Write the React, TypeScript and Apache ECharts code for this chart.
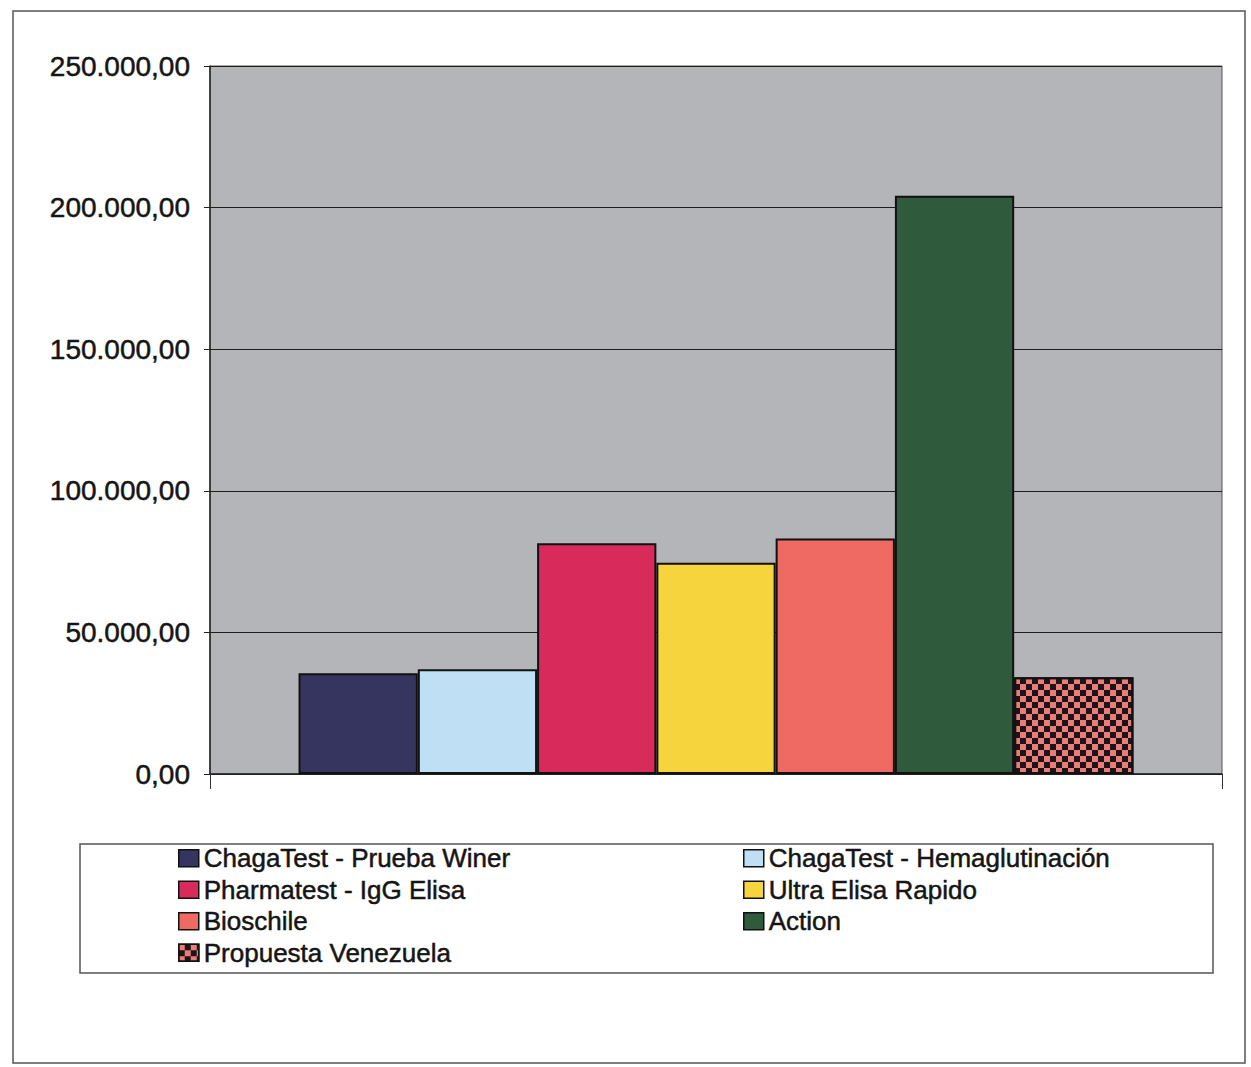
import React, { useEffect, useRef } from "react";
import * as echarts from "echarts";

// Test kits compared and their cost
const kitNames = [
  "ChagaTest - Prueba Winer",
  "ChagaTest - Hemaglutinación",
  "Pharmatest - IgG Elisa",
  "Ultra Elisa Rapido",
  "Bioschile",
  "Action",
  "Propuesta Venezuela",
];
const kitCosts = [35600, 37000, 81500, 74600, 83200, 204200, 34200];
const kitColors = ["#35355f", "#bfe0f4", "#d82a5b", "#f6d43e", "#ee6a63", "#2f5a3b", "#ea7c7a"];

// Single category on the x axis
const categories = [""];

// Y axis range
const yMin = 0;
const yMax = 250000;
const yStep = 50000;

// Legend columns (row-wise ordering of two columns)
const legendLeftColumn = [kitNames[0], kitNames[2], kitNames[4], kitNames[6]];
const legendRightColumn = [kitNames[1], kitNames[3], kitNames[5]];

const FONT = "'Liberation Sans', Arial, sans-serif";
const TEXT_COLOR = "#151515";

function formatCost(v: number): string {
  const whole = Math.round(v)
    .toString()
    .replace(/\B(?=(\d{3})+(?!\d))/g, ".");
  return whole + ",00";
}

export default function App() {
  const ref = useRef<HTMLDivElement>(null);

  useEffect(() => {
    if (!ref.current) return;
    const chart = echarts.init(ref.current, null, { renderer: "svg" });

    const series = kitNames.map((name, i) => {
      const itemStyle: any = {
        color: kitColors[i],
        borderColor: "#111",
        borderWidth: 2,
      };
      if (i === kitNames.length - 1) {
        // checkered fill for the proposal
        itemStyle.decal = {
          symbol: "rect",
          symbolSize: 1,
          dashArrayX: [
            [6, 6],
            [0, 6, 6, 0],
          ],
          dashArrayY: [6, 0],
          color: "#1c1416",
        };
      }
      return {
        type: "bar",
        name,
        data: [kitCosts[i]],
        barGap: "0%",
        barCategoryGap: "17.5%",
        itemStyle,
      };
    });

    const legendBase = {
      orient: "vertical",
      top: 845,
      icon: "rect",
      itemWidth: 20,
      itemHeight: 17,
      itemGap: 5,
      itemStyle: { borderColor: "#111", borderWidth: 1.5 },
      textStyle: {
        fontFamily: FONT,
        fontSize: 26,
        lineHeight: 26,
        color: TEXT_COLOR,
        textBorderColor: TEXT_COLOR,
        textBorderWidth: 0.5,
      },
      padding: 0,
      selectedMode: false,
    };

    chart.setOption({
      animation: false,
      backgroundColor: "#ffffff",
      grid: {
        left: 210,
        right: 29,
        top: 66,
        bottom: 293,
        show: true,
        backgroundColor: "#b4b5b8",
        borderColor: "#555",
        borderWidth: 1,
      },
      xAxis: {
        type: "category",
        data: categories,
        axisLine: { show: true, lineStyle: { color: "#222", width: 1.5 } },
        axisTick: { show: true, length: 15, interval: 0, lineStyle: { color: "#333" } },
        axisLabel: { show: false },
      },
      yAxis: {
        type: "value",
        min: yMin,
        max: yMax,
        interval: yStep,
        axisLine: { show: true, lineStyle: { color: "#222", width: 1.5 } },
        axisTick: { show: true, length: 6, lineStyle: { color: "#222" } },
        splitLine: { show: true, lineStyle: { color: "#1e1e1e", width: 1.2 } },
        axisLabel: {
          margin: 20,
          fontFamily: FONT,
          fontSize: 28,
          color: TEXT_COLOR,
          textBorderColor: TEXT_COLOR,
          textBorderWidth: 0.5,
          formatter: (v: number) => formatCost(v),
        },
      },
      legend: [
        { ...legendBase, left: 178, data: legendLeftColumn },
        { ...legendBase, left: 743, data: legendRightColumn },
      ],
      graphic: [
        {
          type: "rect",
          shape: { x: 13, y: 11, width: 1232, height: 1052 },
          style: { fill: "none", stroke: "#555", lineWidth: 1.5 },
          silent: true,
        },
        {
          type: "rect",
          shape: { x: 80, y: 844, width: 1133, height: 129 },
          style: { fill: "none", stroke: "#555", lineWidth: 1.5 },
          silent: true,
        },
      ],
      series,
    });

    return () => chart.dispose();
  }, []);

  return (
    <div
      ref={ref}
      style={{ position: "absolute", left: 0, top: 0, width: 1251, height: 1067 }}
    />
  );
}
